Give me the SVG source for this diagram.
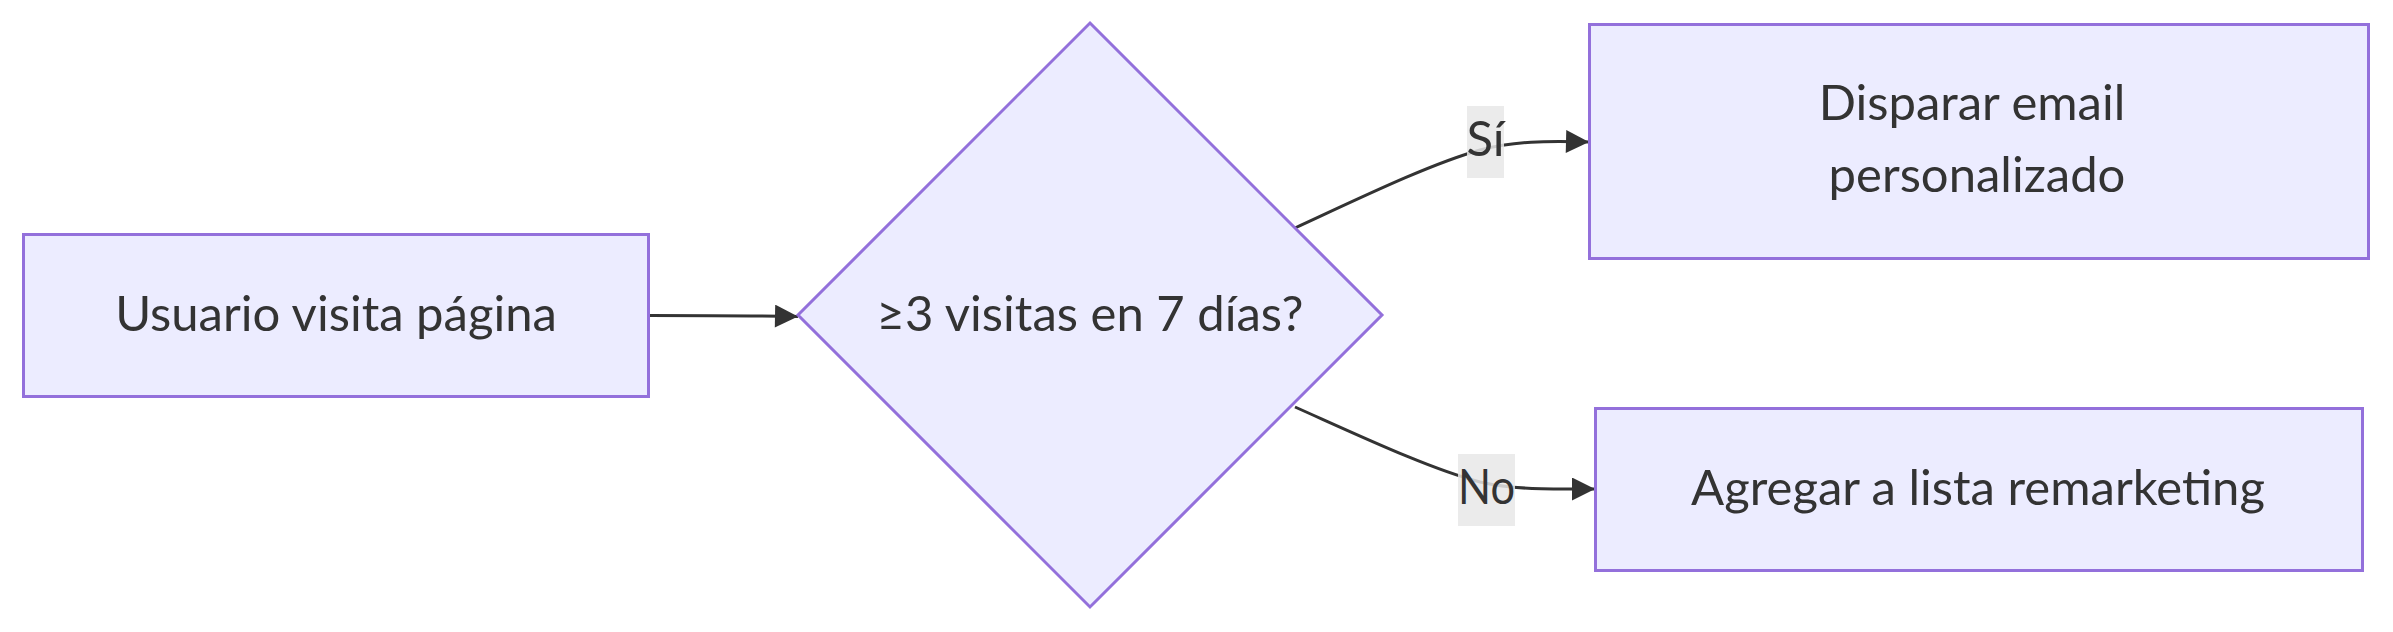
<svg xmlns="http://www.w3.org/2000/svg" width="2393" height="632" viewBox="0 0 2393 632">
<style>
.node{fill:#ECECFF;stroke:#9370DB;stroke-width:3;}
.t{font-family:Lato,"Open Sans","Liberation Sans",sans-serif;font-size:49px;fill:#333333;text-anchor:middle;}
.edge{fill:none;stroke:#333333;stroke-width:3;}
.lbl{fill:#E8E8E8;fill-opacity:0.85;}
</style>
<defs>
<marker id="arrow" viewBox="0 0 10 10" refX="10" refY="5" markerUnits="userSpaceOnUse" markerWidth="24" markerHeight="23" orient="auto">
<path d="M0,0 L10,5 L0,10 z" fill="#333333"/>
</marker>
</defs>
<rect width="2393" height="632" fill="#FFFFFF"/>
<g id="edges">
<path class="edge" d="M650,315.5 C700,315.5 740,315.5 798,316.5" marker-end="url(#arrow)"/>
<path class="edge" d="M1295,228 C1360,198 1430,164 1480,150 C1515,141 1545,141 1589,142" marker-end="url(#arrow)"/>
<path class="edge" d="M1295,407 C1360,436 1430,469 1480,482 C1515,490 1550,489 1595,489" marker-end="url(#arrow)"/>
<g id="label-si">
<rect class="lbl" x="1467" y="106" width="37" height="72"/>
<text class="t" x="1485.5" y="156">Sí</text>
</g>
<g id="label-no">
<rect class="lbl" x="1458" y="454" width="57" height="72"/>
<text class="t" x="1486.5" y="504" textLength="57" lengthAdjust="spacingAndGlyphs">No</text>
</g>
</g>
<g id="node-usuario">
<rect class="node" x="23.5" y="234.5" width="625" height="162"/>
<text class="t" x="336" y="331">Usuario visita página</text>
</g>
<g id="node-decision">
<polygon class="node" points="1090,23 1382,315 1090,607 798,315"/>
<text class="t" x="1090" y="331">≥3 visitas en 7 días?</text>
</g>
<g id="node-email">
<rect class="node" x="1589.5" y="24.5" width="779" height="234"/>
<text class="t" x="1972" y="120">Disparar email</text>
<text class="t" x="1977" y="192">personalizado</text>
</g>
<g id="node-remarketing">
<rect class="node" x="1595.5" y="408.5" width="767" height="162"/>
<text class="t" x="1978" y="505">Agregar a lista remarketing</text>
</g>
</svg>
